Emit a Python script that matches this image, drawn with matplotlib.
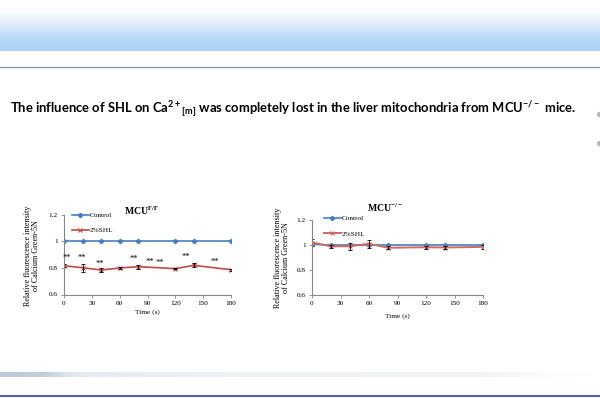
import numpy as np
import matplotlib
matplotlib.use("Agg")
import matplotlib.pyplot as plt
from matplotlib.colors import LinearSegmentedColormap

plt.rcParams['mathtext.fontset'] = 'custom'
plt.rcParams['mathtext.rm'] = 'Lato'
plt.rcParams['mathtext.bf'] = 'Lato:bold'
plt.rcParams['mathtext.default'] = 'regular'

# ---------------- data ----------------
time_s = [0, 20, 40, 60, 80, 120, 140, 180]
x_ticks = [0, 30, 60, 90, 120, 150, 180]
y_ticks = [0.6, 0.8, 1.0, 1.2]
y_tick_labels = ['0.6', '0.8', '1', '1.2']

ff_control = [1.0, 1.0, 1.0, 1.0, 1.0, 1.0, 1.0, 1.0]
ff_shl = [0.817, 0.802, 0.785, 0.800, 0.810, 0.795, 0.820, 0.787]
ff_shl_err = [0.01, 0.03, 0.015, 0.008, 0.015, 0.006, 0.015, 0.006]
ff_star_x = [3, 19, 39, 75, 92, 103, 131, 163]
ff_star_y = [0.878, 0.878, 0.828, 0.866, 0.848, 0.840, 0.881, 0.843]

ko_control = [1.005, 1.0, 1.0, 1.0, 1.0, 1.0, 1.0, 1.0]
ko_shl = [1.02, 0.99, 0.99, 1.01, 0.978, 0.982, 0.980, 0.985]
ko_shl_err = [0.025, 0.01, 0.03, 0.03, 0.012, 0.012, 0.012, 0.015]

W, H = 600, 398
fig = plt.figure(figsize=(6, 3.98), dpi=100)
fig.patch.set_facecolor('white')

def fx(px):
    return px / W

def fy(py):
    return 1 - py / H

# ---------------- background decorations ----------------
bg = fig.add_axes([0, 0, 1, 1], zorder=-10)
bg.set_xlim(0, W)
bg.set_ylim(H, 0)
bg.axis('off')
cmap_top = LinearSegmentedColormap.from_list('t', ['#ffffff', '#f6fafe', '#dcebfb', '#b8d8f8', '#acd1f7'])
grad = np.linspace(0, 1, 100).reshape(-1, 1)
bg.imshow(grad, extent=[0, W, 51, 0], cmap=cmap_top, aspect='auto', interpolation='bilinear')
bg.plot([0, W], [67, 67], color='#8c9ab4', lw=1.0)
cmap_bot = LinearSegmentedColormap.from_list(
    'b', [(0, '#bccadb'), (0.07, '#c2cedd'), (0.12, '#e4e9f1'), (0.4, '#eef1f6'),
          (0.8, '#f1f3f7'), (0.88, '#f8f9fb'), (1, '#ffffff')])
hgrad = np.linspace(0, 1, 300).reshape(1, -1)
bg.imshow(hgrad, extent=[0, W, 377, 372], cmap=cmap_bot, aspect='auto', interpolation='bilinear')
bg.plot([0, W], [395.8, 395.8], color='#4c5bab', lw=1.4)
bg.scatter([599, 599], [114, 143], s=8, color='#b8b8b8')

fig.text(fx(10), fy(114),
         r'The influence of SHL on Ca$^{2+}$$_{[m]}$ was completely lost in the liver mitochondria from MCU$^{-/-}$ mice.',
         fontfamily='Lato', fontweight='bold', fontsize=9.35, color='black', ha='left', va='baseline')

# ---------------- charts ----------------
def make_axes(x0, x1, y_top, y_bot):
    return fig.add_axes([fx(x0), fy(y_bot), fx(x1 - x0), (y_bot - y_top) / H])

def style(ax):
    ax.set_xlim(0, 180)
    ax.set_ylim(0.6, 1.2)
    ax.set_xticks(x_ticks)
    ax.set_xticklabels([str(t) for t in x_ticks])
    ax.set_yticks(y_ticks)
    ax.set_yticklabels(y_tick_labels)
    for s in ['top', 'right']:
        ax.spines[s].set_visible(False)
    for s in ['left', 'bottom']:
        ax.spines[s].set_color('#868686')
        ax.spines[s].set_linewidth(0.8)
    ax.tick_params(axis='both', length=2, width=0.6, color='#868686', labelsize=5.2, pad=2.5)
    for lab in ax.get_xticklabels() + ax.get_yticklabels():
        lab.set_fontfamily('Liberation Serif')
    ax.patch.set_alpha(0)

ctrl_c = '#4a7ebb'
shl_c = '#be4b48'
leg_prop = {'family': 'Liberation Serif', 'size': 5.2}

# left chart (MCU F/F)
ax1 = make_axes(64, 231, 215, 294.5)
style(ax1)
ax1.plot(time_s, ff_control, color=ctrl_c, lw=1.2, marker='D', ms=2.2, label='Control')
ax1.plot(time_s, ff_shl, color=shl_c, lw=1.2, marker='x', ms=3, mew=0.8, label='2%SHL')
ax1.errorbar(time_s, ff_shl, yerr=ff_shl_err, fmt='none', ecolor='black',
             elinewidth=0.6, capsize=1.5, capthick=0.6)
for sx, sy in zip(ff_star_x, ff_star_y):
    ax1.text(sx, sy, '**', fontsize=6, fontfamily='Liberation Serif', ha='center', va='center')
ax1.legend(loc='upper left', bbox_to_anchor=(fx(72), fy(212)), bbox_transform=fig.transFigure,
           frameon=False, prop=leg_prop,
           handlelength=2.3, labelspacing=1.3, handletextpad=0.1, borderpad=0, borderaxespad=0)
fig.text(fx(142), fy(211), r'MCU$^{F/F}$', fontfamily='Liberation Serif', fontweight='bold',
         fontsize=7, ha='center', va='center', math_fontfamily='stix')
fig.text(fx(147), fy(312), 'Time (s)', fontfamily='Liberation Serif', fontsize=5.2, ha='center', va='center')
fig.text(fx(32), fy(256), 'Relative fluorescence intensity\nof Calcium Green-5N', rotation=90,
         fontfamily='Liberation Serif', fontsize=5.9, ha='center', va='center', linespacing=1.1)

# right chart (MCU -/-)
ax2 = make_axes(312, 483, 220, 295)
style(ax2)
ax2.plot(time_s, ko_control, color=ctrl_c, lw=1.2, marker='D', ms=2.2, label='Control')
ax2.plot(time_s, ko_shl, color='#cc6a67', lw=1.4, marker='x', ms=3, mew=0.8, label='2%SHL')
ax2.errorbar(time_s, ko_shl, yerr=ko_shl_err, fmt='none', ecolor='black',
             elinewidth=0.6, capsize=1.5, capthick=0.6)
ax2.legend(loc='upper left', bbox_to_anchor=(fx(324), fy(215)), bbox_transform=fig.transFigure,
           frameon=False, prop=leg_prop,
           handlelength=2.3, labelspacing=1.3, handletextpad=0.1, borderpad=0, borderaxespad=0)
fig.text(fx(385), fy(208), r'MCU$^{-/-}$', fontfamily='Liberation Serif', fontweight='bold',
         fontsize=7, ha='center', va='center', math_fontfamily='stix')
fig.text(fx(397), fy(316), 'Time (s)', fontfamily='Liberation Serif', fontsize=5.2, ha='center', va='center')
fig.text(fx(282), fy(258), 'Relative fluorescence intensity\nof Calcium Green-5N', rotation=90,
         fontfamily='Liberation Serif', fontsize=5.9, ha='center', va='center', linespacing=1.1)

fig.savefig('out.png', dpi=100)
